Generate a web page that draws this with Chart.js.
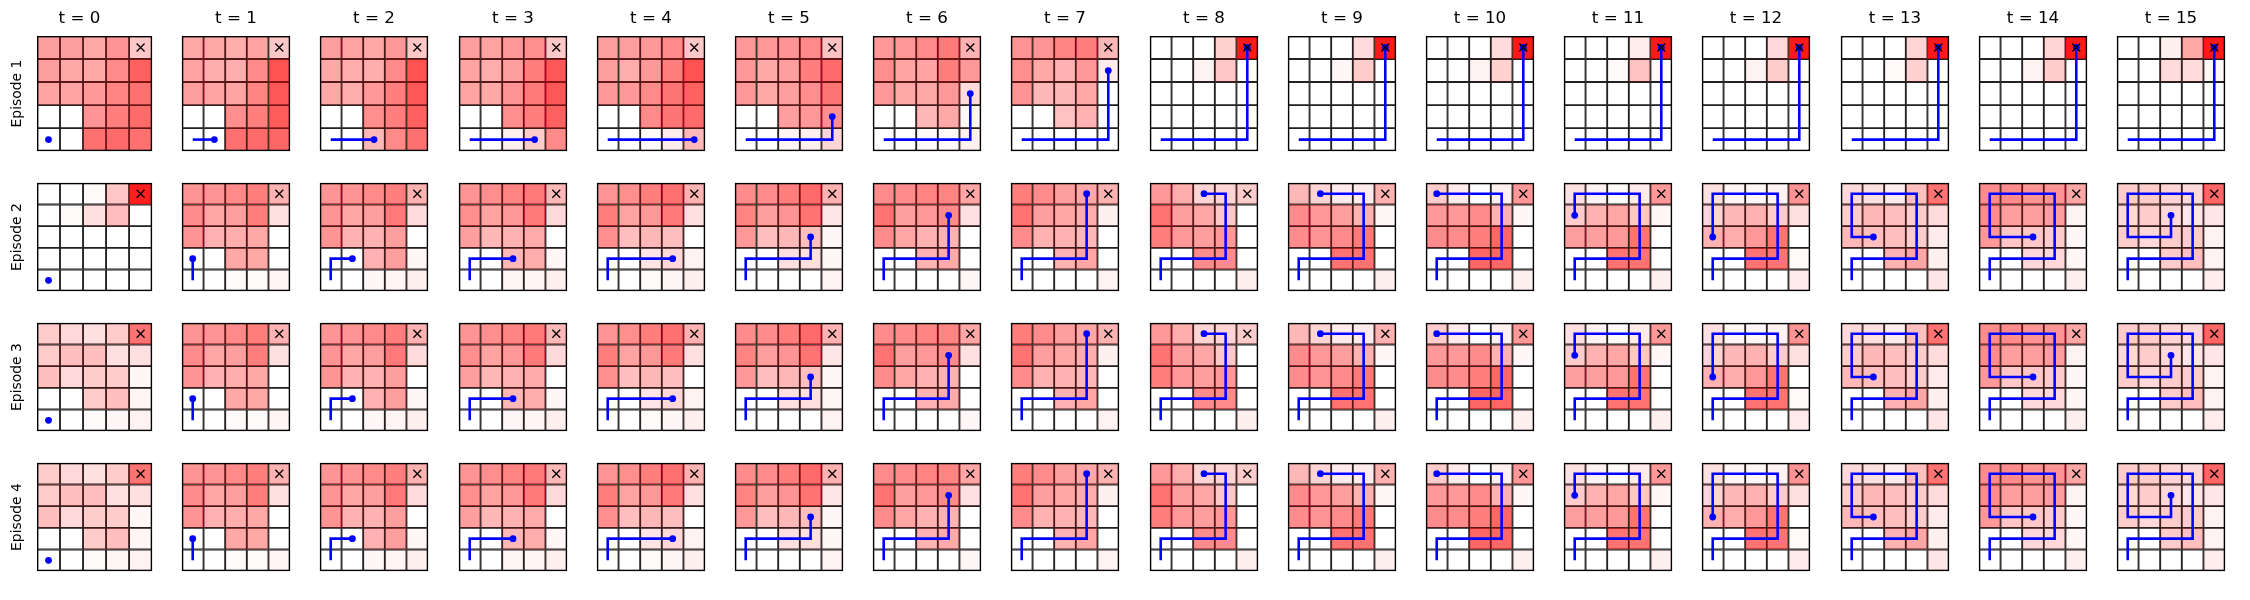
<!DOCTYPE html>
<html>
<head>
<meta charset="utf-8">
<script src="https://cdn.jsdelivr.net/npm/chart.js@4.4.0/dist/chart.umd.min.js"></script>
<style>
  html, body { margin: 0; padding: 0; background: #fff; }
  body { width: 2250px; height: 600px; position: relative; overflow: hidden; }
  canvas { position: absolute; }
</style>
</head>
<body>
<script>
// grid is 5x5, columns 0..4, rows 0..4 counted from the bottom
const cols = [0, 1, 2, 3, 4];
const steps = [0, 1, 2, 3, 4, 5, 6, 7, 8, 9, 10, 11, 12, 13, 14, 15];
const episodes = ['Episode 1', 'Episode 2', 'Episode 3', 'Episode 4'];

// agent path (cell column / row) for each episode
const pathCols1 = [0, 1, 2, 3, 4, 4, 4, 4, 4];
const pathRows1 = [0, 0, 0, 0, 0, 1, 2, 3, 4];
const pathCols2 = [0, 0, 1, 2, 3, 3, 3, 3, 2, 1, 0, 0, 0, 1, 2, 2];
const pathRows2 = [0, 1, 1, 1, 1, 2, 3, 4, 4, 4, 4, 3, 2, 2, 2, 3];

const goalCol = 4;
const goalRow = 4;

// cell intensity in % per step, rows written top to bottom
const heat1 = [
  '38 38 34 42 22/38 34 34 46 62/36 36 40 48 56/0 0 42 50 58/0 0 56 58 56',
  '34 34 32 36 22/36 32 32 46 68/38 36 36 48 66/0 0 44 50 64/0 0 56 58 60',
  '38 36 34 40 22/34 32 32 46 68/34 32 40 50 66/0 0 44 50 62/0 0 28 46 56',
  '38 36 40 44 22/36 32 38 50 66/36 34 42 52 66/0 0 44 50 62/0 0 6 20 46',
  '38 38 40 46 22/38 32 40 50 68/40 40 46 54 62/0 0 46 54 58/0 0 2 8 28',
  '40 40 42 46 24/40 34 38 50 58/40 34 38 44 54/0 0 38 40 44/0 0 4 6 16',
  '40 40 46 52 30/44 36 36 50 40/40 34 34 40 14/0 0 28 34 4/0 0 2 2 6',
  '42 42 48 50 28/44 34 30 40 8/42 28 28 34 0/0 0 24 30 0/0 0 0 0 0',
  '0 0 0 18 90/0 0 5 22 0/0 0 0 0 0/0 0 0 0 0/0 0 0 0 0',
  '0 0 0 14 90/0 0 3 20 0/0 0 0 0 0/0 0 0 0 0/0 0 0 0 0',
  '0 0 0 14 90/0 0 5 18 0/0 0 0 0 0/0 0 0 0 0/0 0 0 0 0',
  '0 0 0 7 90/0 0 2 24 2/0 0 0 0 0/0 0 0 0 0/0 0 0 0 0',
  '0 0 0 15 90/0 0 5 20 0/0 0 0 0 0/0 0 0 0 0/0 0 0 0 0',
  '0 0 0 17 90/0 0 2 18 0/0 0 0 0 0/0 0 0 0 0/0 0 0 0 0',
  '0 0 0 17 90/0 0 5 20 0/0 0 0 0 0/0 0 0 0 0/0 0 0 0 0',
  '0 0 6 34 90/0 0 14 14 3/0 0 0 0 0/0 0 0 0 0/0 0 0 0 0'
];

const heat2 = [
  '0 0 2 22 88/0 2 12 26 0/0 0 0 0 0/0 0 0 0 0/0 0 0 0 0',
  '42 42 46 50 30/45 35 38 50 12/42 30 32 34 0/0 0 34 34 0/0 0 2 2 4',
  '42 42 46 50 30/42 35 38 52 14/42 30 30 38 0/0 0 30 38 3/0 0 3 4 6',
  '42 44 48 52 28/44 36 40 52 15/38 28 30 33 0/0 0 28 32 3/0 0 3 4 6',
  '42 44 50 56 30/50 36 40 52 12/44 25 28 25 0/0 0 10 15 5/0 0 2 3 6',
  '45 45 50 58 30/48 38 42 55 10/40 25 28 25 3/0 0 12 12 3/0 0 0 0 5',
  '45 45 48 48 35/55 38 40 45 12/45 35 30 30 0/0 0 30 33 0/0 0 0 0 3',
  '50 45 38 35 30/55 38 35 32 6/45 30 30 28 0/0 0 30 35 0/0 0 0 0 5',
  '40 32 17 17 20/55 38 35 22 0/50 40 38 40 0/0 0 45 45 0/0 0 0 0 6',
  '28 17 8 8 30/45 40 38 30 3/45 42 45 52 0/0 0 55 55 0/0 0 0 0 6',
  '20 8 0 6 40/40 40 45 30 3/45 45 50 60 0/0 0 60 60 0/0 0 0 0 6',
  '12 5 2 8 40/20 30 35 22 3/38 38 40 55 0/0 0 55 55 0/0 0 0 0 6',
  '12 4 3 5 42/17 28 30 20 12/30 32 40 55 0/0 0 55 55 2/0 0 0 0 8',
  '15 12 7 25 55/20 28 25 20 14/28 25 25 20 8/0 0 30 35 6/0 0 0 0 10',
  '45 45 42 42 35/45 38 38 38 5/40 22 22 20 3/0 0 15 15 3/0 0 0 0 6',
  '20 20 17 15 60/15 20 15 10 10/20 15 20 20 5/0 0 20 25 5/0 0 0 0 7'
];

// episodes 3 and 4 only differ from episode 2 at t = 0
const heat3First = '20 15 12 20 55/20 25 25 12 12/25 15 20 20 3/0 0 20 25 4/0 0 2 3 5';
const heat4First = '20 15 12 20 55/20 25 25 12 12/25 15 20 20 3/0 0 20 25 4/0 0 2 3 5';
const heat3 = [heat3First, ...heat2.slice(1)];
const heat4 = [heat4First, ...heat2.slice(1)];

const heats = [heat1, heat2, heat3, heat4];
const paths = [[pathCols1, pathRows1], [pathCols2, pathRows2], [pathCols2, pathRows2], [pathCols2, pathRows2]];

// layout
const PANEL = 122;
const LEFT0 = 37, STEP_X = 138.2;
const TOP0 = 36, STEP_Y = 140;
const TITLE_H = 27;   // 20px line + 7px padding
const YLAB_W = 37;    // 17px line + 9 + 11 padding

const framePlugin = {
  id: 'frame',
  afterDatasetsDraw(chart) {
    const { ctx, chartArea: a } = chart;
    ctx.save();
    ctx.strokeStyle = '#000';
    ctx.lineWidth = 1.4;
    ctx.strokeRect(a.left + 0.7, a.top + 0.7, a.right - a.left - 1.4, a.bottom - a.top - 1.4);
    ctx.restore();
  }
};

function parseHeat(s) {
  return s.split('/').map(r => r.trim().split(/\s+/).map(Number));
}

function makePanel(e, t) {
  const grid = parseHeat(heats[e][t]);
  const [pc, pr] = paths[e];
  const n = Math.min(t, pc.length - 1);
  const pathData = [];
  for (let i = 0; i <= n; i++) pathData.push({ x: pc[i], y: pr[i] + 0.5 });
  const radii = pathData.map((p, i) => (i === n ? 3.4 : 0));

  const datasets = [];
  datasets.push({
    type: 'line',
    order: 0,
    data: [{ x: goalCol, y: goalRow + 0.5 }],
    showLine: false,
    pointStyle: 'crossRot',
    pointRadius: 5.6,
    borderColor: '#000',
    pointBorderWidth: 1.3,
    borderWidth: 1.3
  });
  datasets.push({
    type: 'line',
    order: 1,
    data: pathData,
    borderColor: '#0000ff',
    borderWidth: 2.6,
    tension: 0,
    pointRadius: radii,
    pointBackgroundColor: '#0000ff',
    pointBorderColor: '#0000ff',
    pointBorderWidth: 0,
    fill: false
  });
  for (let r = 0; r < 5; r++) {
    const y = 4 - r;
    datasets.push({
      type: 'bar',
      order: 2,
      data: cols.map(() => [y, y + 1]),
      backgroundColor: grid[r].map(v => `rgba(255,0,0,${v / 100})`),
      borderColor: '#222',
      borderWidth: 0.6,
      borderSkipped: false,
      grouped: false,
      barPercentage: 1,
      categoryPercentage: 1
    });
  }

  const firstRow = e === 0;
  const firstCol = t === 0;
  const left = Math.round(LEFT0 + STEP_X * t) - (firstCol ? YLAB_W : 0);
  const top = Math.round(TOP0 + STEP_Y * e) - (firstRow ? TITLE_H : 0);
  const canvas = document.createElement('canvas');
  canvas.width = PANEL + (firstCol ? YLAB_W : 0);
  canvas.height = PANEL + (firstRow ? TITLE_H : 0);
  canvas.style.left = left + 'px';
  canvas.style.top = top + 'px';
  document.body.appendChild(canvas);

  new Chart(canvas, {
    type: 'bar',
    data: { labels: cols, datasets },
    options: {
      responsive: false,
      animation: false,
      events: [],
      devicePixelRatio: 1,
      layout: { padding: 0 },
      plugins: {
        legend: { display: false },
        tooltip: { enabled: false },
        title: {
          display: firstRow,
          text: 't = ' + steps[t],
          color: '#000',
          font: { family: 'DejaVu Sans', size: 16.7, weight: 'normal', lineHeight: '20px' },
          padding: { top: 0, bottom: 7 }
        }
      },
      scales: {
        x: { display: false, offset: true },
        y: {
          display: firstCol,
          min: 0,
          max: 5,
          ticks: { display: false },
          grid: { display: false, drawTicks: false },
          border: { display: false },
          title: {
            display: firstCol,
            text: episodes[e],
            color: '#000',
            font: { family: 'DejaVu Sans', size: 13.9, lineHeight: '17px' },
            padding: { top: 9, bottom: 11 }
          }
        }
      }
    },
    plugins: [framePlugin]
  });
}

for (let e = 0; e < episodes.length; e++) {
  for (let t = 0; t < steps.length; t++) makePanel(e, t);
}
</script>
</body>
</html>
